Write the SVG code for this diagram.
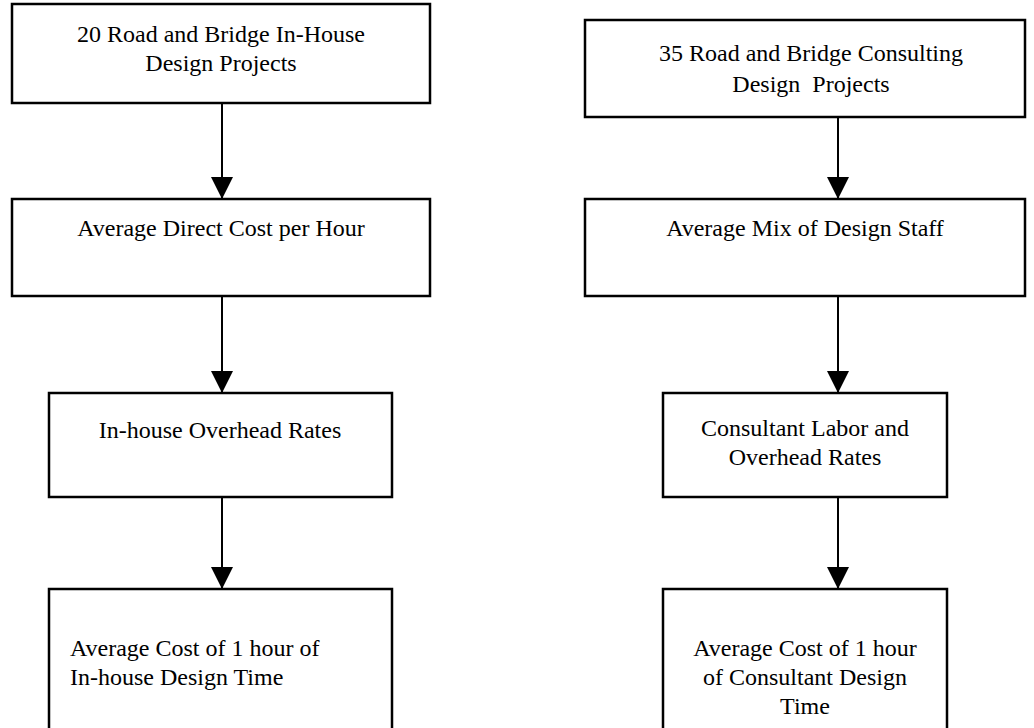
<svg xmlns="http://www.w3.org/2000/svg" width="1034" height="728" viewBox="0 0 1034 728">
  <style>
    .box { fill: #ffffff; stroke: #000000; stroke-width: 2.5; }
    .lbl { font-family: "Liberation Serif", "Times New Roman", serif; font-size: 24px; fill: #000000; }
    .mid { text-anchor: middle; }
    .conn { stroke: #000000; stroke-width: 2; fill: none; marker-end: url(#arrow); }
  </style>
  <defs>
    <marker id="arrow" markerUnits="userSpaceOnUse" markerWidth="22" markerHeight="22" viewBox="0 0 22 22" refX="22" refY="11" orient="auto">
      <path d="M0,0 L22,11 L0,22 Z" fill="#000000"/>
    </marker>
  </defs>
  <rect width="1034" height="728" fill="#ffffff"/>

  <g id="connectors">
    <line class="conn" x1="222" y1="103" x2="222" y2="199"/>
    <line class="conn" x1="222" y1="296" x2="222" y2="393"/>
    <line class="conn" x1="222" y1="497" x2="222" y2="589"/>
    <line class="conn" x1="838" y1="117" x2="838" y2="199"/>
    <line class="conn" x1="838" y1="296" x2="838" y2="393"/>
    <line class="conn" x1="838" y1="497" x2="838" y2="589"/>
  </g>

  <g id="inhouse-projects">
    <rect class="box" x="12" y="4" width="418" height="99"/>
    <text class="lbl mid" x="221" y="42">20 Road and Bridge In-House</text>
    <text class="lbl mid" x="221" y="71">Design Projects</text>
  </g>
  <g id="direct-cost">
    <rect class="box" x="12" y="199" width="418" height="97"/>
    <text class="lbl mid" x="221" y="236">Average Direct Cost per Hour</text>
  </g>
  <g id="inhouse-overhead">
    <rect class="box" x="49" y="393" width="343" height="104"/>
    <text class="lbl mid" x="220" y="438">In-house Overhead Rates</text>
  </g>
  <g id="inhouse-avg">
    <rect class="box" x="49" y="589" width="343" height="150"/>
    <text class="lbl" x="70" y="656">Average Cost of 1 hour of</text>
    <text class="lbl" x="70" y="685">In-house Design Time</text>
  </g>

  <g id="consult-projects">
    <rect class="box" x="585" y="20" width="440" height="97"/>
    <text class="lbl mid" x="811" y="61">35 Road and Bridge Consulting</text>
    <text class="lbl mid" x="811" y="92" xml:space="preserve">Design  Projects</text>
  </g>
  <g id="design-staff">
    <rect class="box" x="585" y="199" width="440" height="97"/>
    <text class="lbl mid" x="805" y="236">Average Mix of Design Staff</text>
  </g>
  <g id="consult-rates">
    <rect class="box" x="663" y="393" width="284" height="104"/>
    <text class="lbl mid" x="805" y="436">Consultant Labor and</text>
    <text class="lbl mid" x="805" y="465">Overhead Rates</text>
  </g>
  <g id="consult-avg">
    <rect class="box" x="663" y="589" width="284" height="150"/>
    <text class="lbl mid" x="805" y="656">Average Cost of 1 hour</text>
    <text class="lbl mid" x="805" y="685">of Consultant Design</text>
    <text class="lbl mid" x="805" y="714">Time</text>
  </g>
</svg>
